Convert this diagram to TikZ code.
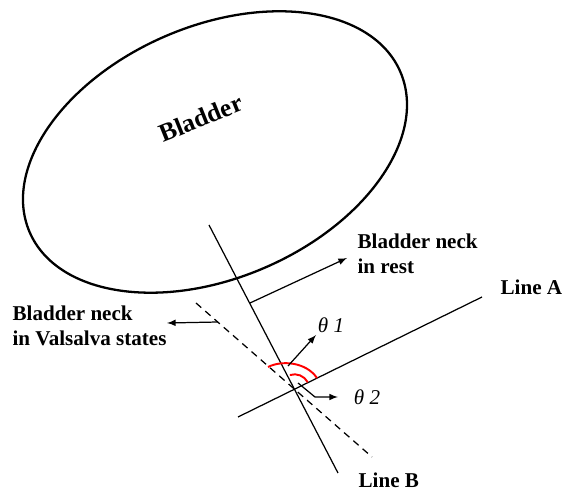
\documentclass[tikz,border=0pt]{standalone}
\usepackage{fontspec}
\setmainfont{Liberation Serif}
\usetikzlibrary{positioning}

\tikzset{
  label text/.style={font=\fontsize{12}{14.6}\selectfont\bfseries, align=left, inner sep=0pt},
  angle text/.style={font=\fontsize{12}{14}\selectfont\itshape, inner sep=0pt},
  angle mark/.style={draw=red, line width=1.1pt},
}

\begin{document}
\begin{tikzpicture}[x=0.02cm, y=-0.02cm, line width=0.7pt]
  \useasboundingbox (0,0) rectangle (562,493);

  % bladder outline
  \coordinate (C) at (215,152);
  \draw[line width=1.3pt, rotate around={23.4:(C)}] (C) ellipse [x radius=4.04cm, y radius=2.52cm];
  \node[rotate=22, font=\fontsize{14.5}{16}\selectfont\bfseries] (bladder) at (201,118) {Bladder};

  % lines
  \coordinate (O) at (294.5,389.3);
  \coordinate (B1) at (209,225);
  \coordinate (B2) at (338,473);
  \coordinate (A1) at (238,417);
  \coordinate (A2) at (482,297);
  \coordinate (D1) at (196,303);
  \coordinate (D2) at (372,457);
	\draw (B1) -- (B2);
	\draw (A1) -- (A2);
	\draw[dash pattern=on 4pt off 3pt] (D1) -- (D2);

  % angles
	\draw[angle mark] (317,378) .. controls (306,362) and (282,360) .. (268,367);
	\draw[angle mark] (O) ++(28:0.3cm) arc[start angle=28, end angle=108, radius=0.3cm];

  % labels
	\node[label text, anchor=north west] (rest) at (357,233) {Bladder neck\\in rest};
	\node[label text, anchor=north west] (valsalva) at (12,305) {Bladder neck\\in Valsalva states};
	\node[label text, anchor=north west] (lineA) at (500,279) {Line A};
	\node[label text, anchor=north west] (lineB) at (358,472) {Line B};
	\node[angle text] (t1) at (331,325) {θ 1};
	\node[angle text] (t2) at (367,397) {θ 2};

  % pointers
  \coordinate (R0) at (250,303);
  \coordinate (R1) at (347,258);
  \coordinate (V0) at (218,322);
  \coordinate (V1) at (167,323);
  \coordinate (P0) at (288,366);
  \coordinate (P1) at (316,335);
  \coordinate (Q0) at (298,383);
  \coordinate (Q1) at (315,397);
  \coordinate (Q2) at (338,397);
	\draw[-latex] (R0) -- (R1);
	\draw[-latex] (V0) -- (V1);
	\draw[-latex] (P0) -- (P1);
	\draw[-latex] (Q0) -- (Q1) -- (Q2);
\end{tikzpicture}
\end{document}
